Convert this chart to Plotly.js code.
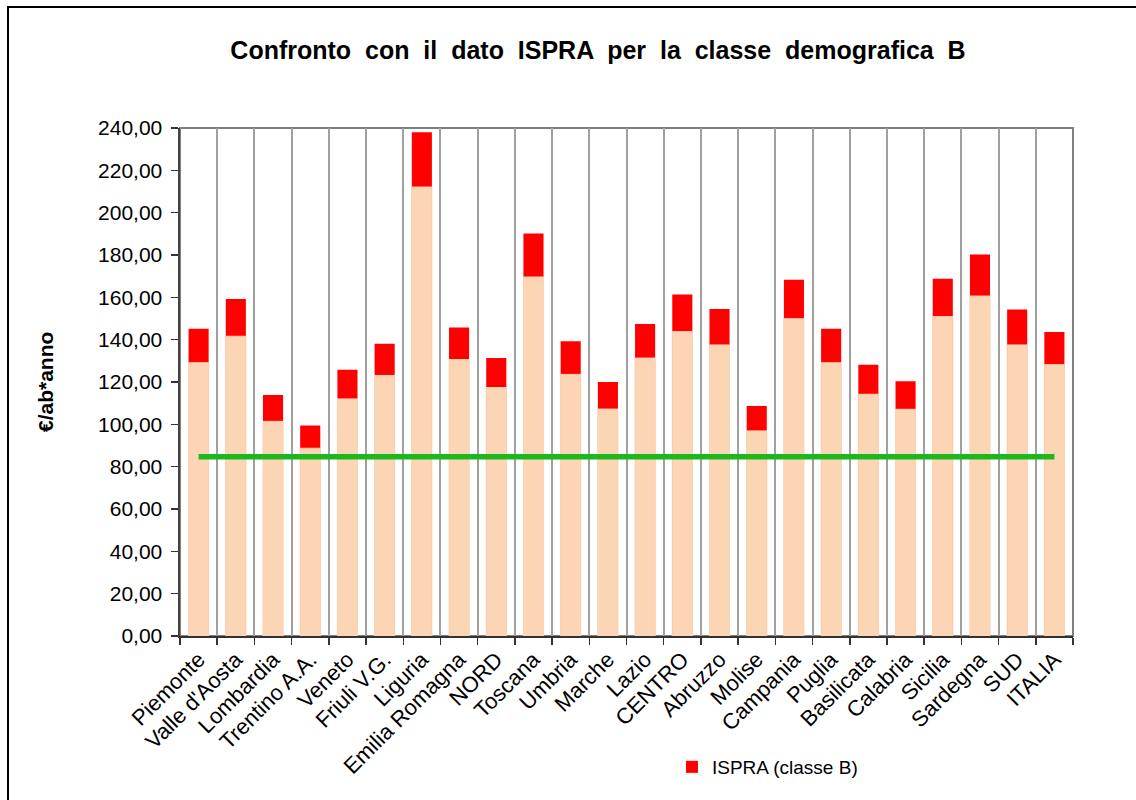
<!DOCTYPE html>
<html>
<head>
<meta charset="utf-8">
<script src="https://cdn.plot.ly/plotly-3.0.1.min.js"></script>
<style>
  html, body { margin: 0; padding: 0; background: #fff; }
  #chart { width: 1136px; height: 800px; position: absolute; left: 0; top: 0; }
  #frame { position: absolute; left: 7px; top: 6px; width: 1200px; height: 900px;
           border: 2px solid #000; pointer-events: none; box-sizing: border-box; }
</style>
</head>
<body>
<div id="chart"></div>
<div id="frame"></div>
<script>
// Categories (regions and macro-areas)
const categories = ["Piemonte", "Valle d'Aosta", "Lombardia", "Trentino A.A.", "Veneto",
  "Friuli V.G.", "Liguria", "Emilia Romagna", "NORD", "Toscana", "Umbria", "Marche",
  "Lazio", "CENTRO", "Abruzzo", "Molise", "Campania", "Puglia", "Basilicata", "Calabria",
  "Sicilia", "Sardegna", "SUD", "ITALIA"];

// Peach bars (base value, €/ab*anno)
const baseValues = [129.1, 141.6, 101.4, 88.7, 112.0, 123.1, 212.1, 130.6, 117.4, 169.6,
  123.6, 107.2, 131.3, 143.8, 137.5, 96.9, 149.9, 129.1, 114.2, 107.1, 150.9, 160.6, 137.5, 128.2];

// Red bars: total reaching the ISPRA (classe B) value
const ispraValues = [145.2, 159.2, 113.9, 99.5, 125.8, 138.1, 238.0, 145.8, 131.3, 190.1,
  139.2, 120.0, 147.4, 161.3, 154.5, 108.7, 168.3, 145.2, 128.1, 120.3, 168.8, 180.2, 154.3, 143.6];

// Green reference line value
const referenceValue = 84.7;

const yTickVals = [0, 20, 40, 60, 80, 100, 120, 140, 160, 180, 200, 220, 240];

const FONT = '"Liberation Sans", Arial, sans-serif';
const NB = '\u00A0';

const traces = [
  {
    type: 'bar', name: 'ISPRA (classe B)', x: categories, y: ispraValues,
    marker: { color: '#FF0000', line: { width: 0 } }, showlegend: true, hoverinfo: 'x+y'
  },
  {
    type: 'bar', name: 'Dato', x: categories, y: baseValues,
    marker: { color: '#FCD5B5', line: { color: '#FCD5B5', width: 1 } }, showlegend: false, hoverinfo: 'x+y'
  },
  {
    type: 'scatter', mode: 'lines', name: 'Riferimento',
    x: [categories[0], categories[categories.length - 1]],
    y: [referenceValue, referenceValue],
    line: { color: '#1DB81D', width: 5.5 }, showlegend: false
  }
];

const titleText = ['Confronto', 'con', 'il', 'dato', 'ISPRA', 'per', 'la', 'classe', 'demografica', 'B'].join(' ' + NB);

const layout = {
  width: 1136, height: 800,
  paper_bgcolor: '#ffffff', plot_bgcolor: '#ffffff',
  font: { family: FONT, color: '#000', size: 21 },
  separators: ',.',
  margin: { l: 180, r: 63, t: 128, b: 164 },
  barmode: 'overlay',
  bargap: 0.46,
  title: {
    text: '<b>' + titleText + '</b>',
    font: { family: FONT, size: 25, color: '#000' },
    x: 598 / 1136, xref: 'container', xanchor: 'center',
    y: 1 - 50 / 800, yref: 'container', yanchor: 'middle'
  },
  xaxis: {
    type: 'category',
    tickangle: -45,
    tickson: 'boundaries',
    ticks: 'outside', ticklen: 7, tickcolor: '#333', tickwidth: 1.5,
    showgrid: true, gridcolor: '#A0A0A0', gridwidth: 2,
    showline: true, linecolor: '#333', linewidth: 2,
    tickfont: { family: FONT, size: 22, color: '#000' },
    fixedrange: true
  },
  yaxis: {
    range: [0, 240],
    tickvals: yTickVals,
    tickformat: '.2f',
    ticks: 'outside', ticklen: 7, tickcolor: '#333', tickwidth: 1.5,
    ticklabelstandoff: 4,
    showgrid: false, zeroline: false,
    showline: true, linecolor: '#444', linewidth: 2.5,
    tickfont: { family: FONT, size: 21, color: '#000' },
    fixedrange: true
  },
  shapes: [
    { type: 'rect', xref: 'paper', yref: 'paper', x0: 0, x1: 1, y0: 0, y1: 1,
      line: { color: '#808080', width: 2 }, layer: 'below' }
  ],
  annotations: [
    { text: '<b>€/ab*anno</b>', xref: 'paper', yref: 'paper',
      x: (45 - 180) / 893, y: 0.5, textangle: -90, showarrow: false,
      xanchor: 'center', yanchor: 'middle',
      font: { family: FONT, size: 21, color: '#000' } }
  ],
  legend: {
    orientation: 'h',
    x: (672 - 180) / 893, xanchor: 'left',
    y: (636 - 767) / 508, yanchor: 'middle',
    font: { family: FONT, size: 19, color: '#000' },
    bgcolor: 'rgba(0,0,0,0)'
  },
  showlegend: true
};

Plotly.newPlot('chart', traces, layout, { displayModeBar: false, staticPlot: true });
</script>
</body>
</html>
